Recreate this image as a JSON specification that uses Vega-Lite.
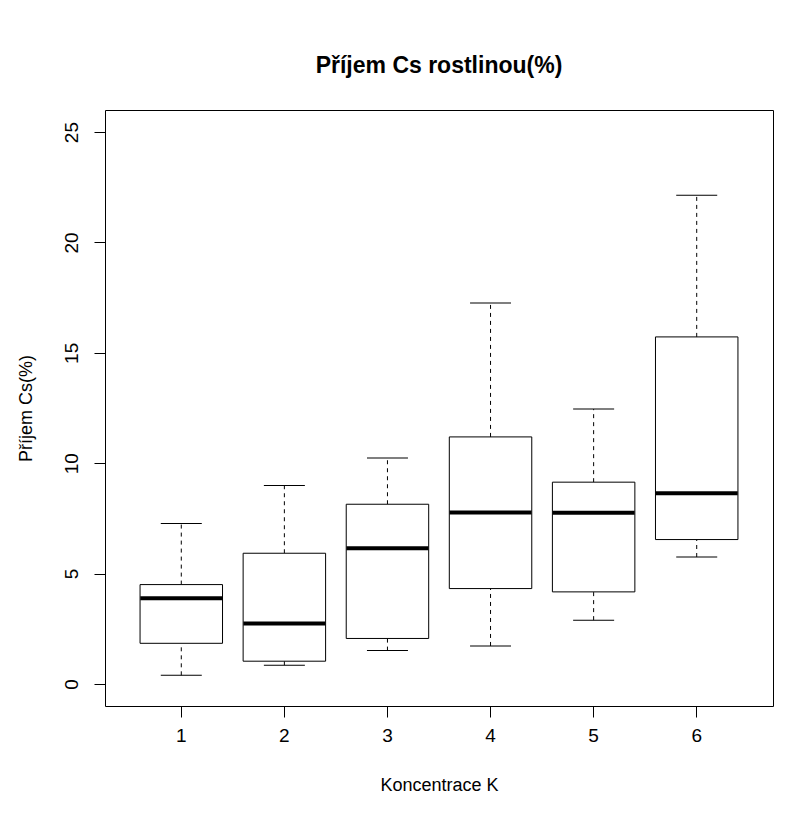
{
  "$schema": "https://vega.github.io/schema/vega-lite/v6.json",
  "width": 668,
  "height": 596,
  "autosize": {"type": "none"},
  "padding": {"left": 105, "top": 110, "right": 38, "bottom": 112},
  "background": "white",
  "title": {
    "text": "Příjem Cs rostlinou(%)",
    "font": "Liberation Sans",
    "fontSize": 23,
    "fontWeight": "bold",
    "color": "black",
    "anchor": "middle",
    "baseline": "bottom",
    "offset": 9
  },
  "data": {
    "values": [
      {"k": "1", "lower": 0.39, "q1": 1.84, "median": 3.88, "q3": 4.50, "upper": 7.27},
      {"k": "2", "lower": 0.85, "q1": 1.03, "median": 2.74, "q3": 5.92, "upper": 8.99},
      {"k": "3", "lower": 1.51, "q1": 2.06, "median": 6.15, "q3": 8.14, "upper": 10.24},
      {"k": "4", "lower": 1.72, "q1": 4.32, "median": 7.77, "q3": 11.19, "upper": 17.26},
      {"k": "5", "lower": 2.89, "q1": 4.17, "median": 7.75, "q3": 9.14, "upper": 12.45},
      {"k": "6", "lower": 5.75, "q1": 6.54, "median": 8.64, "q3": 15.72, "upper": 22.14}
    ]
  },
  "encoding": {
    "x": {
      "field": "k",
      "type": "ordinal",
      "scale": {"paddingInner": 0.2, "paddingOuter": 0.34},
      "axis": {
        "title": "Koncentrace K",
        "labelAngle": 0,
        "domain": false,
        "grid": false,
        "tickSize": 11,
        "tickColor": "black",
        "labelFont": "Liberation Sans",
        "labelFontSize": 19,
        "labelColor": "black",
        "labelPadding": 9,
        "titleFont": "Liberation Sans",
        "titleFontSize": 18,
        "titleFontWeight": "normal",
        "titleColor": "black",
        "titlePadding": 31
      }
    }
  },
  "layer": [
    {
      "mark": {"type": "rule", "color": "black", "strokeWidth": 1, "strokeDash": [4, 4]},
      "encoding": {
        "y": {
          "field": "lower",
          "type": "quantitative",
          "title": "Příjem Cs(%)",
          "scale": {"domain": [-1, 26], "nice": false, "zero": false},
          "axis": {
            "values": [0, 5, 10, 15, 20, 25],
            "domain": false,
            "grid": false,
            "tickSize": 11,
            "tickColor": "black",
            "labelAngle": 270,
            "labelAlign": "center",
            "labelBaseline": "alphabetic",
            "labelPadding": 17,
            "labelFont": "Liberation Sans",
            "labelFontSize": 19,
            "labelColor": "black",
            "titleFont": "Liberation Sans",
            "titleFontSize": 18,
            "titleFontWeight": "normal",
            "titleColor": "black",
            "titlePadding": 27
          }
        },
        "y2": {"field": "q1"}
      }
    },
    {
      "mark": {"type": "rule", "color": "black", "strokeWidth": 1, "strokeDash": [4, 4]},
      "encoding": {
        "y": {"field": "q3", "type": "quantitative", "title": "Příjem Cs(%)", "scale": {"domain": [-1, 26], "nice": false, "zero": false}},
        "y2": {"field": "upper"}
      }
    },
    {
      "mark": {"type": "tick", "color": "black", "opacity": 1, "size": 41, "thickness": 1},
      "encoding": {
        "y": {"field": "lower", "type": "quantitative", "title": "Příjem Cs(%)", "scale": {"domain": [-1, 26], "nice": false, "zero": false}}
      }
    },
    {
      "mark": {"type": "tick", "color": "black", "opacity": 1, "size": 41, "thickness": 1},
      "encoding": {
        "y": {"field": "upper", "type": "quantitative", "title": "Příjem Cs(%)", "scale": {"domain": [-1, 26], "nice": false, "zero": false}}
      }
    },
    {
      "mark": {"type": "bar", "fill": "white", "stroke": "black", "strokeWidth": 1, "opacity": 1},
      "encoding": {
        "y": {"field": "q1", "type": "quantitative", "title": "Příjem Cs(%)", "scale": {"domain": [-1, 26], "nice": false, "zero": false}},
        "y2": {"field": "q3"}
      }
    },
    {
      "mark": {"type": "tick", "color": "black", "opacity": 1, "size": 82, "thickness": 4},
      "encoding": {
        "y": {"field": "median", "type": "quantitative", "title": "Příjem Cs(%)", "scale": {"domain": [-1, 26], "nice": false, "zero": false}}
      }
    }
  ],
  "config": {
    "view": {"stroke": "black", "strokeWidth": 1},
    "font": "Liberation Sans"
  }
}
